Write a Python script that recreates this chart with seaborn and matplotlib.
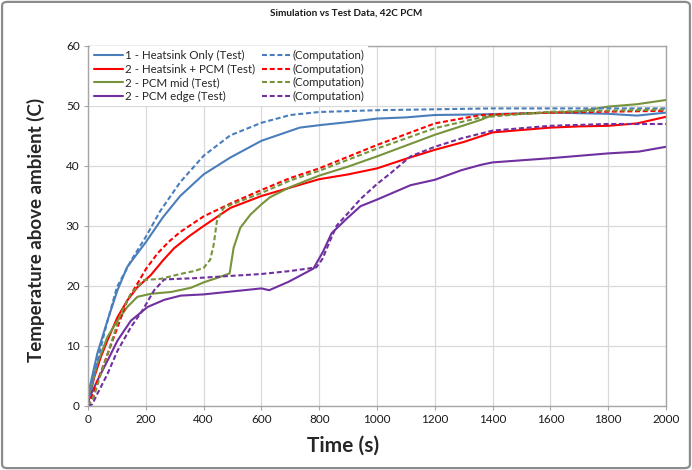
import matplotlib
matplotlib.use("Agg")
import matplotlib.pyplot as plt
from matplotlib.patches import FancyBboxPatch
import seaborn as sns

# ---------------- data ----------------
hs_test_t = [0, 3, 32, 67, 102, 136, 200, 260, 319, 400, 492, 600, 733, 800, 897, 1000, 1100, 1200, 1360, 1600, 1800, 1900, 2000]
hs_test_T = [0.5, 2.5, 8.7, 14.2, 19.3, 23.2, 27.3, 31.5, 35.0, 38.6, 41.4, 44.2, 46.4, 46.8, 47.3, 47.9, 48.1, 48.5, 48.6, 48.9, 48.7, 48.4, 48.9]

hs_comp_t = [0, 20, 60, 100, 150, 200, 250, 319, 400, 492, 600, 700, 800, 1000, 1400, 2000]
hs_comp_T = [0, 5.0, 12.8, 19.8, 24.3, 28.2, 32.5, 37.3, 41.7, 45.1, 47.2, 48.5, 49.0, 49.3, 49.6, 49.6]

pcm_test_t = [0, 5, 21, 44, 67, 102, 136, 171, 217, 260, 298, 350, 400, 492, 600, 700, 800, 900, 1000, 1100, 1200, 1300, 1400, 1500, 1600, 1700, 1800, 1900, 2000]
pcm_test_T = [0.5, 1.4, 4.7, 8.1, 10.9, 14.8, 17.6, 19.8, 21.8, 24.3, 26.3, 28.3, 30.0, 33.0, 35.0, 36.4, 37.8, 38.6, 39.6, 41.2, 42.7, 44.0, 45.6, 46.0, 46.4, 46.6, 46.7, 47.1, 48.2]

pcm_comp_t = [0, 20, 55, 102, 136, 171, 200, 240, 280, 319, 400, 500, 600, 700, 800, 1000, 1200, 1360, 1600, 2000]
pcm_comp_T = [0, 2.5, 7.0, 13.1, 17.6, 20.4, 22.8, 25.4, 27.4, 29.0, 31.6, 33.9, 36.0, 38.0, 39.6, 43.5, 47.1, 48.5, 48.9, 49.2]

mid_test_t = [0, 5, 32, 67, 102, 136, 171, 217, 287, 356, 400, 450, 490, 504, 527, 562, 600, 630, 700, 800, 900, 1000, 1100, 1200, 1360, 1400, 1600, 1700, 1800, 1900, 2000]
mid_test_T = [0.5, 2.0, 7.0, 11.5, 14.2, 16.5, 18.2, 18.7, 19.0, 19.7, 20.6, 21.4, 22.1, 26.4, 29.7, 31.9, 33.6, 34.8, 36.5, 38.4, 39.9, 41.6, 43.4, 45.2, 47.7, 48.5, 48.9, 49.1, 49.9, 50.3, 51.0]

mid_comp_t = [0, 20, 44, 79, 113, 148, 194, 252, 319, 368, 400, 423, 435, 446, 469, 492, 600, 700, 800, 1000, 1200, 1360, 1600, 2000]
mid_comp_T = [0, 1.5, 5.3, 10.3, 15.4, 18.7, 21.0, 21.2, 22.0, 22.5, 23.0, 24.4, 26.9, 30.8, 33.0, 33.5, 35.5, 37.6, 39.2, 42.9, 46.3, 48.1, 49.05, 49.4]

edge_test_t = [0, 5, 32, 67, 102, 148, 206, 264, 321, 400, 500, 600, 627, 694, 780, 813, 843, 897, 943, 1000, 1116, 1200, 1292, 1360, 1400, 1600, 1800, 1906, 2000]
edge_test_T = [0.5, 1.4, 4.2, 7.5, 10.9, 14.2, 16.5, 17.7, 18.4, 18.6, 19.1, 19.6, 19.3, 20.7, 22.9, 25.7, 28.8, 31.3, 33.3, 34.4, 36.8, 37.7, 39.3, 40.2, 40.6, 41.3, 42.1, 42.4, 43.2]

edge_comp_t = [0, 15, 32, 67, 102, 148, 188, 229, 264, 368, 500, 600, 700, 790, 811, 838, 861, 897, 943, 1000, 1047, 1116, 1200, 1292, 1400, 1600, 1800, 2000]
edge_comp_T = [0, 0.3, 2.0, 5.3, 9.2, 13.1, 15.9, 19.3, 21.1, 21.3, 21.7, 22.0, 22.5, 23.1, 24.5, 27.6, 30.1, 32.0, 34.5, 37.0, 38.8, 41.6, 43.2, 44.6, 45.9, 46.7, 47.0, 47.0]

test_labels = ["1 - Heatsink Only (Test)", "2 - Heatsink + PCM (Test)", "2 - PCM mid (Test)", "2 - PCM edge (Test)"]
comp_label = "(Computation)"
x_ticks = [0, 200, 400, 600, 800, 1000, 1200, 1400, 1600, 1800, 2000]
y_ticks = [0, 10, 20, 30, 40, 50, 60]
title = "Simulation vs Test Data, 42C PCM"
xlabel = "Time (s)"
ylabel = "Temperature above ambient (C)"

colors = ["#4a7ebb", "#ff0000", "#77933c", "#7030a0"]

# ---------------- style ----------------
sns.set_style("white")
plt.rcParams["font.family"] = ["Lato", "DejaVu Sans"]

fig = plt.figure(figsize=(6.92, 4.70), dpi=100)
ax = fig.add_axes([88 / 692, 1 - 406 / 470, 578 / 692, 360 / 470])

tests = [(hs_test_t, hs_test_T), (pcm_test_t, pcm_test_T), (mid_test_t, mid_test_T), (edge_test_t, edge_test_T)]
comps = [(hs_comp_t, hs_comp_T), (pcm_comp_t, pcm_comp_T), (mid_comp_t, mid_comp_T), (edge_comp_t, edge_comp_T)]

for (t, T), c, lab in zip(tests, colors, test_labels):
    sns.lineplot(x=t, y=T, ax=ax, color=c, linewidth=1.5, label=lab,
                 estimator=None, sort=False)
for (t, T), c in zip(comps, colors):
    sns.lineplot(x=t, y=T, ax=ax, color=c, linewidth=1.5, label=comp_label,
                 linestyle=(0, (2.4, 1.3)), estimator=None, sort=False)

ax.set_xlim(0, 2000)
ax.set_ylim(0, 60)
ax.set_xticks(x_ticks)
ax.set_yticks(y_ticks)
ax.grid(True, color="#d9d9d9", linewidth=0.9)
ax.set_axisbelow(True)
for s in ax.spines.values():
    s.set_color("#a6a6a6")
    s.set_linewidth(1.0)
ax.tick_params(axis="both", which="both", length=3, color="#a6a6a6",
               labelsize=8.5, labelcolor="#1a1a1a", pad=3, direction="out")
ax.tick_params(axis="x", bottom=True)
ax.tick_params(axis="y", left=True)

ax.set_xlabel(xlabel, fontsize=15, fontweight="bold")
ax.set_ylabel(ylabel, fontsize=13.5, fontweight="bold")
ax.xaxis.set_label_coords((343 - 88) / 578, (406 - 436) / 360)
ax.yaxis.set_label_coords((45 - 88) / 578, 0.49)

fig.text(0.5, 1 - 13 / 470, title, ha="center", va="center",
         fontsize=7.2, fontweight="bold", color="#1a1a1a")

leg = ax.legend(loc="upper left", bbox_to_anchor=(0.004, 1.0), ncol=2,
                fontsize=8.3, frameon=True, framealpha=1.0, edgecolor="white",
                facecolor="white", borderaxespad=0, borderpad=0.35,
                handlelength=2.45, handletextpad=0.2, columnspacing=0.6,
                labelspacing=0.22, fancybox=False)
leg.get_frame().set_linewidth(0)

border = FancyBboxPatch((0.003, 0.004), 0.994, 0.992, transform=fig.transFigure,
                        boxstyle="round,pad=0,rounding_size=0.008",
                        facecolor="none", edgecolor="#8c8c8c", linewidth=1.6,
                        zorder=10)
fig.patches.append(border)

fig.savefig("out.png", dpi=100, facecolor="white")
